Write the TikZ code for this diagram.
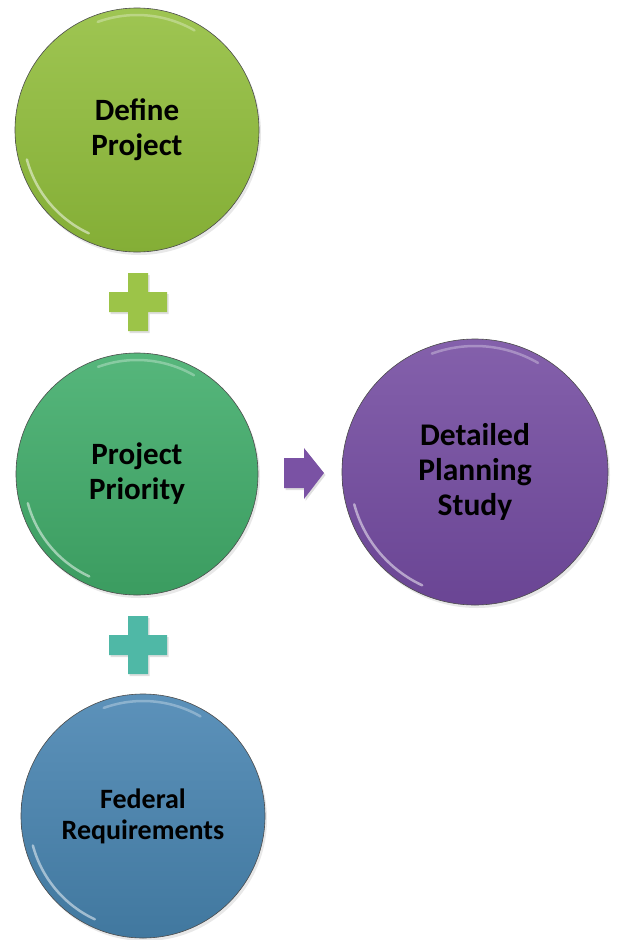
\documentclass[tikz,border=0pt]{standalone}
\usepackage{fontspec}
\setmainfont{Carlito}
\usetikzlibrary{shadows,calc}
\definecolor{gA}{HTML}{96C043}
\definecolor{gAd}{HTML}{84AE36}
\definecolor{gB}{HTML}{47B070}
\definecolor{gBd}{HTML}{3B9C60}
\definecolor{pC}{HTML}{7C56A6}
\definecolor{pCd}{HTML}{6A4594}
\definecolor{bD}{HTML}{4E88B4}
\definecolor{bDd}{HTML}{41789F}
\definecolor{plusA}{HTML}{9CC448}
\definecolor{plusB}{HTML}{4FB8A6}
\definecolor{arr}{HTML}{7A52A4}
\tikzset{
  x=1pt,y=-1pt,
  disc/.style={circle,draw=black!70,line width=0.6pt,inner sep=0pt,
    drop shadow={shadow xshift=2pt,shadow yshift=-3pt,opacity=0.18}},
  lbl/.style 2 args={font=\fontsize{#1}{#2}\selectfont\bfseries,align=center,text=black},
  plussign/.style={draw=none,fill=#1,
    drop shadow={shadow xshift=1.5pt,shadow yshift=-2pt,opacity=0.25}},
  rim/.style={white,opacity=0.5,line width=2.5pt,line cap=round}
}
\begin{document}
\begin{tikzpicture}
\useasboundingbox (0,0) rectangle (616,940);
\fill[white] (0,0) rectangle (616,940);
% circles
\node[disc,minimum size=244pt,top color=gA!92!white,bottom color=gAd] (def) at (137,130) {};
\node[disc,minimum size=242pt,top color=gB!92!white,bottom color=gBd] (pri) at (137,474) {};
\node[disc,minimum size=266pt,top color=pC!94!white,bottom color=pCd] (dps) at (475,472) {};
\node[disc,minimum size=244pt,top color=bD!92!white,bottom color=bDd] (fed) at (143,816) {};
% rim highlights (lower left, bright)
\draw[rim] ($(def.center)+(115:114)$) arc[start angle=115,end angle=165,radius=114];
\draw[rim] ($(pri.center)+(115:113)$) arc[start angle=115,end angle=165,radius=113];
\draw[rim] ($(dps.center)+(115:125)$) arc[start angle=115,end angle=165,radius=125];
\draw[rim] ($(fed.center)+(115:114)$) arc[start angle=115,end angle=165,radius=114];
% rim highlights (top, faint)
\draw[rim,opacity=0.3] ($(def.center)+(250:115)$) arc[start angle=250,end angle=300,radius=115];
\draw[rim,opacity=0.3] ($(pri.center)+(250:114)$) arc[start angle=250,end angle=300,radius=114];
\draw[rim,opacity=0.3] ($(dps.center)+(250:126)$) arc[start angle=250,end angle=300,radius=126];
\draw[rim,opacity=0.3] ($(fed.center)+(250:115)$) arc[start angle=250,end angle=300,radius=115];
% labels
\node[lbl={31}{35}] (tdef) at (def.center) {Define\\Project};
\node[lbl={31}{35}] (tpri) at (pri.center) {Project\\Priority};
\node[lbl={31.5}{35}] (tdps) at (dps.center) {Detailed\\Planning\\Study};
\node[lbl={28}{31}] (tfed) at (fed.center) {Federal\\Requirements};
% plus signs
\coordinate (p1) at (138,302);
\coordinate (p2) at (138,645);
\fill[plussign=plusA] ($(p1)+(-10,-29)$) -- ++(20,0) -- ++(0,19) -- ++(19,0) -- ++(0,20) -- ++(-19,0) -- ++(0,19) -- ++(-20,0) -- ++(0,-19) -- ++(-19,0) -- ++(0,-20) -- ++(19,0) -- cycle;
\fill[plussign=plusB] ($(p2)+(-10,-29)$) -- ++(20,0) -- ++(0,19) -- ++(19,0) -- ++(0,20) -- ++(-19,0) -- ++(0,19) -- ++(-20,0) -- ++(0,-19) -- ++(-19,0) -- ++(0,-20) -- ++(19,0) -- cycle;
% arrow
\coordinate (a0) at (284,473);
\fill[plussign=arr] ($(a0)+(0,-15)$) -- ++(20,0) -- ++(0,-10) -- ++(20,25) -- ++(-20,26) -- ++(0,-11) -- ++(-20,0) -- cycle;
\end{tikzpicture}
\end{document}
